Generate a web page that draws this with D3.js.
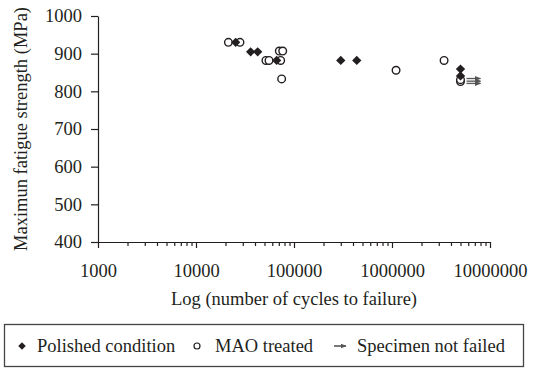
<!DOCTYPE html>
<html lang="en">
<head>
<meta charset="UTF-8">
<title>Fatigue strength vs cycles</title>
<script src="https://cdnjs.cloudflare.com/ajax/libs/d3/7.9.0/d3.min.js"></script>
<style>
  body { margin: 0; background: #fff; }
  svg { display: block; }
  text { font-family: "Liberation Serif", "Times New Roman", serif; fill: #231f20; }
</style>
</head>
<body>
<svg id="chart" width="538" height="369"></svg>
<script>
// data: [cycles to failure, max stress MPa]
const polished = [
  [25400, 930], [36100, 905], [42600, 905], [66500, 882],
  [300000, 882], [437000, 882], [5000000, 859], [5000000, 841]
];
const maoTreated = [
  [21400, 930], [28100, 930], [51700, 882], [55600, 882], [73100, 882],
  [70800, 907], [76700, 907], [74800, 833], [1100000, 856],
  [3400000, 882], [5000000, 826], [5000000, 831]
];
// runouts (specimen not failed)
const notFailed = [[5000000, 834], [5000000, 827], [5000000, 821]];

const yTicks = [400, 500, 600, 700, 800, 900, 1000];
const xTicks = [1000, 10000, 100000, 1000000, 10000000];

const svg = d3.select("#chart");
const margin = { left: 98, top: 16, right: 48, bottom: 127 };
const W = 538, H = 369;
const ink = "#231f20";

const x = d3.scaleLog().domain([1000, 10000000]).range([margin.left, W - margin.right]);
const y = d3.scaleLinear().domain([400, 1000]).range([H - margin.bottom, margin.top]);

// minor ticks 2..9 per decade
const minor = [];
xTicks.slice(0, -1).forEach(d => { for (let k = 2; k < 10; k++) minor.push(d * k); });

const gx = svg.append("g").attr("transform", `translate(0,${y(400)})`);
gx.call(d3.axisBottom(x).tickValues(minor).tickSize(4).tickFormat(""));
gx.select(".domain").remove();
const gx2 = svg.append("g").attr("transform", `translate(0,${y(400)})`)
  .call(d3.axisBottom(x).tickValues(xTicks).tickSize(6).tickSizeOuter(0)
    .tickPadding(16).tickFormat(d3.format("d")));

const gy = svg.append("g").attr("transform", `translate(${x(1000)},0)`)
  .call(d3.axisLeft(y).tickValues(yTicks).tickSize(7).tickSizeOuter(0)
    .tickPadding(9).tickFormat(d3.format("d")));

svg.selectAll(".tick line, .domain").attr("stroke", ink).attr("stroke-width", 1.2);
svg.selectAll(".tick text").attr("font-size", "18.5px").attr("fill", ink)
  .attr("font-family", "Liberation Serif, serif");

// axis titles
svg.append("text")
  .attr("x", (x.range()[0] + x.range()[1]) / 2).attr("y", 305)
  .attr("text-anchor", "middle").attr("font-size", "18.5px")
  .text("Log (number of cycles to failure)");
svg.append("text")
  .attr("transform", `translate(27,${(y(400) + y(1000)) / 2}) rotate(-90)`)
  .attr("text-anchor", "middle").attr("font-size", "18.5px")
  .text("Maximun fatigue strength (MPa)");

// arrowhead
svg.append("defs").append("marker")
  .attr("id", "arr").attr("viewBox", "0 0 10 10").attr("refX", 9).attr("refY", 5)
  .attr("markerWidth", 5).attr("markerHeight", 5).attr("orient", "auto")
  .append("path").attr("d", "M0,1L10,5L0,9z").attr("fill", "#555");

// runout arrows
svg.append("g").selectAll("line").data(notFailed).join("line")
  .attr("x1", d => x(d[0]) + 6).attr("x2", d => x(d[0]) + 20)
  .attr("y1", d => y(d[1])).attr("y2", d => y(d[1]))
  .attr("stroke", "#555").attr("stroke-width", 1.3)
  .attr("marker-end", "url(#arr)");

const diamond = d3.symbol().type(d3.symbolDiamond2).size(55);

svg.append("g").selectAll("circle").data(maoTreated).join("circle")
  .attr("cx", d => x(d[0])).attr("cy", d => y(d[1])).attr("r", 3.8)
  .attr("fill", "#fff").attr("stroke", ink).attr("stroke-width", 1.4);

svg.append("g").selectAll("path").data(polished).join("path")
  .attr("d", diamond)
  .attr("transform", d => `translate(${x(d[0])},${y(d[1])})`)
  .attr("fill", ink);

// legend
const lg = svg.append("g");
lg.append("rect").attr("x", 4.5).attr("y", 324.5).attr("width", 519).attr("height", 42)
  .attr("fill", "none").attr("stroke", "#444").attr("stroke-width", 1.3);
const ly = 346;
lg.append("path").attr("d", d3.symbol().type(d3.symbolDiamond2).size(36))
  .attr("transform", `translate(22,${ly})`).attr("fill", ink);
lg.append("text").attr("x", 37).attr("y", ly + 6).attr("font-size", "18.5px").text("Polished condition");
lg.append("circle").attr("cx", 197).attr("cy", ly).attr("r", 3)
  .attr("fill", "#fff").attr("stroke", ink).attr("stroke-width", 1.2);
lg.append("text").attr("x", 215).attr("y", ly + 6).attr("font-size", "18.5px").text("MAO treated");
lg.append("line").attr("x1", 334).attr("x2", 346).attr("y1", ly).attr("y2", ly)
  .attr("stroke", ink).attr("stroke-width", 1.2).attr("marker-end", "url(#arr)");
lg.append("text").attr("x", 357).attr("y", ly + 6).attr("font-size", "18.5px").text("Specimen not failed");
</script>
</body>
</html>
